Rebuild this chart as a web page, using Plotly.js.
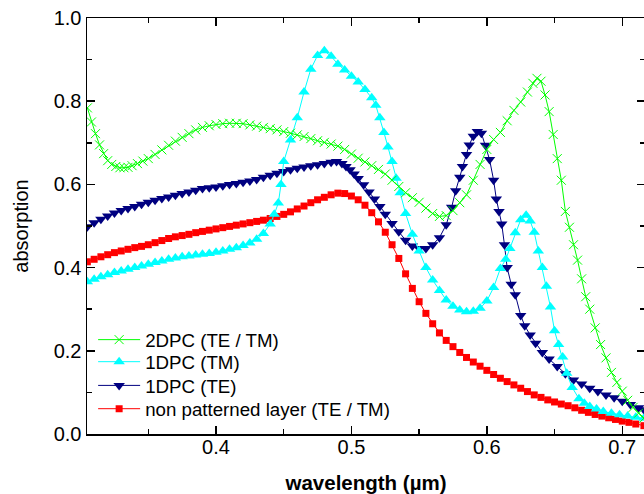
<!DOCTYPE html>
<html>
<head>
<meta charset="utf-8">
<script src="https://cdn.plot.ly/plotly-3.0.1.min.js"></script>
<style>
html,body{margin:0;padding:0;overflow:hidden;background:#fff;}
#chart{width:646px;height:494px;}
</style>
</head>
<body>
<div id="chart"></div>
<script>
// ---- Data (wavelength in µm, absorption) ----
var seriesNames = ["2DPC (TE / TM)", "1DPC (TM)", "1DPC (TE)", "non patterned layer (TE / TM)"];

var x2DPC = [0.305,0.308,0.311,0.314,0.317,0.320,0.323,0.326,0.329,0.332,0.335,0.338,0.342,0.346,0.350,0.355,0.360,0.365,0.370,0.375,0.380,0.385,0.390,0.395,0.400,0.405,0.410,0.415,0.420,0.425,0.430,0.435,0.440,0.445,0.450,0.455,0.460,0.465,0.470,0.475,0.480,0.485,0.490,0.495,0.500,0.505,0.510,0.515,0.520,0.525,0.530,0.535,0.540,0.545,0.550,0.555,0.560,0.565,0.570,0.575,0.580,0.585,0.590,0.595,0.600,0.605,0.610,0.615,0.620,0.625,0.630,0.634,0.637,0.640,0.643,0.646,0.649,0.652,0.655,0.658,0.661,0.664,0.667,0.670,0.673,0.676,0.680,0.684,0.688,0.692,0.696,0.700,0.704,0.708,0.712,0.716];
var y2DPC = [0.784,0.750,0.722,0.695,0.674,0.657,0.648,0.643,0.640,0.640,0.641,0.645,0.650,0.656,0.662,0.672,0.683,0.694,0.704,0.713,0.722,0.731,0.737,0.741,0.744,0.746,0.747,0.747,0.746,0.743,0.740,0.737,0.734,0.731,0.727,0.723,0.719,0.715,0.710,0.705,0.701,0.697,0.692,0.684,0.673,0.663,0.654,0.645,0.636,0.625,0.610,0.595,0.580,0.568,0.557,0.543,0.530,0.523,0.525,0.537,0.556,0.575,0.610,0.648,0.684,0.708,0.725,0.753,0.778,0.798,0.822,0.843,0.855,0.848,0.815,0.775,0.720,0.662,0.610,0.535,0.497,0.455,0.418,0.373,0.330,0.300,0.255,0.215,0.183,0.148,0.124,0.103,0.081,0.064,0.050,0.038];

var x1DPC_TM = [0.305,0.310,0.315,0.320,0.325,0.330,0.335,0.340,0.345,0.350,0.355,0.360,0.365,0.370,0.375,0.380,0.385,0.390,0.395,0.400,0.405,0.410,0.415,0.420,0.425,0.430,0.435,0.440,0.443,0.446,0.448,0.450,0.455,0.460,0.465,0.470,0.475,0.480,0.485,0.490,0.495,0.500,0.505,0.510,0.515,0.518,0.521,0.524,0.527,0.530,0.533,0.536,0.540,0.545,0.550,0.555,0.560,0.565,0.570,0.575,0.580,0.585,0.590,0.595,0.600,0.605,0.610,0.614,0.617,0.621,0.625,0.629,0.632,0.635,0.638,0.641,0.644,0.647,0.650,0.653,0.656,0.659,0.663,0.668,0.672,0.676,0.681,0.686,0.692,0.698,0.704,0.710,0.716];
var y1DPC_TM = [0.366,0.372,0.378,0.383,0.388,0.392,0.396,0.400,0.404,0.408,0.412,0.416,0.420,0.423,0.426,0.428,0.430,0.432,0.434,0.437,0.440,0.444,0.448,0.453,0.459,0.468,0.482,0.505,0.528,0.555,0.600,0.655,0.707,0.760,0.822,0.877,0.910,0.921,0.908,0.889,0.875,0.860,0.846,0.828,0.808,0.790,0.760,0.725,0.690,0.655,0.615,0.580,0.530,0.480,0.440,0.400,0.370,0.345,0.322,0.307,0.298,0.294,0.295,0.302,0.320,0.352,0.398,0.420,0.446,0.484,0.515,0.526,0.512,0.485,0.440,0.400,0.355,0.305,0.248,0.215,0.185,0.146,0.112,0.085,0.074,0.066,0.060,0.054,0.050,0.046,0.043,0.040,0.038];

var x1DPC_TE = [0.305,0.310,0.315,0.320,0.325,0.330,0.335,0.340,0.345,0.350,0.355,0.360,0.365,0.370,0.375,0.380,0.385,0.390,0.395,0.400,0.405,0.410,0.415,0.420,0.425,0.430,0.435,0.440,0.445,0.450,0.455,0.460,0.465,0.470,0.475,0.480,0.485,0.489,0.493,0.496,0.499,0.502,0.505,0.509,0.513,0.517,0.521,0.525,0.530,0.535,0.540,0.545,0.550,0.555,0.560,0.565,0.570,0.574,0.577,0.580,0.582,0.585,0.587,0.590,0.593,0.596,0.599,0.602,0.605,0.607,0.609,0.611,0.613,0.615,0.618,0.621,0.625,0.628,0.632,0.636,0.641,0.646,0.652,0.658,0.664,0.670,0.676,0.682,0.688,0.694,0.700,0.706,0.712,0.716];
var y1DPC_TE = [0.498,0.508,0.516,0.524,0.531,0.537,0.542,0.547,0.552,0.557,0.562,0.566,0.570,0.574,0.578,0.582,0.586,0.590,0.592,0.594,0.597,0.600,0.602,0.605,0.608,0.612,0.617,0.622,0.627,0.631,0.635,0.639,0.642,0.645,0.647,0.650,0.653,0.655,0.650,0.643,0.635,0.625,0.614,0.599,0.582,0.565,0.547,0.528,0.506,0.486,0.466,0.452,0.446,0.446,0.455,0.472,0.503,0.545,0.585,0.617,0.643,0.672,0.695,0.716,0.727,0.723,0.694,0.660,0.610,0.565,0.535,0.505,0.455,0.400,0.360,0.335,0.285,0.260,0.238,0.218,0.196,0.180,0.162,0.145,0.130,0.120,0.110,0.102,0.094,0.087,0.079,0.071,0.063,0.058];

var xNonPat = [0.305,0.310,0.315,0.320,0.325,0.330,0.335,0.340,0.345,0.350,0.355,0.360,0.365,0.370,0.375,0.380,0.385,0.390,0.395,0.400,0.405,0.410,0.415,0.420,0.425,0.430,0.435,0.440,0.445,0.450,0.455,0.460,0.465,0.470,0.475,0.480,0.485,0.490,0.495,0.500,0.505,0.510,0.515,0.520,0.525,0.530,0.535,0.540,0.545,0.550,0.555,0.560,0.565,0.570,0.575,0.580,0.585,0.590,0.595,0.600,0.605,0.610,0.615,0.620,0.625,0.630,0.635,0.640,0.645,0.650,0.655,0.660,0.665,0.670,0.675,0.680,0.685,0.690,0.695,0.700,0.705,0.710,0.716];
var yNonPat = [0.414,0.420,0.426,0.431,0.436,0.440,0.444,0.448,0.451,0.455,0.460,0.465,0.470,0.474,0.477,0.480,0.484,0.487,0.490,0.493,0.496,0.499,0.502,0.505,0.508,0.511,0.514,0.518,0.523,0.528,0.534,0.541,0.548,0.556,0.563,0.569,0.575,0.579,0.578,0.572,0.563,0.550,0.532,0.510,0.485,0.455,0.422,0.385,0.350,0.318,0.290,0.265,0.243,0.225,0.210,0.196,0.184,0.173,0.163,0.153,0.143,0.134,0.126,0.118,0.110,0.102,0.094,0.088,0.082,0.077,0.072,0.068,0.063,0.057,0.052,0.047,0.043,0.039,0.035,0.031,0.028,0.024,0.020];

var xTickVals = [0.4, 0.5, 0.6, 0.7];
var xTickText = ["0.4", "0.5", "0.6", "0.7"];
var yTickVals = [0.0, 0.2, 0.4, 0.6, 0.8, 1.0];
var yTickText = ["0.0", "0.2", "0.4", "0.6", "0.8", "1.0"];

// ---- Traces (drawn bottom to top); one legend box per series ----
var FONT = "Arial, 'Liberation Sans', sans-serif";
var traces = [
  {x: xNonPat, y: yNonPat, name: seriesNames[3], mode: "lines+markers", legend: "legend4",
   line: {color: "#ff0000", width: 1},
   marker: {symbol: "square", size: 7, color: "#ff0000", line: {width: 0}}},
  {x: x1DPC_TE, y: y1DPC_TE, name: seriesNames[2], mode: "lines+markers", legend: "legend3",
   line: {color: "#000080", width: 1},
   marker: {symbol: "triangle-down", size: 10, color: "#000080", line: {width: 0}}},
  {x: x1DPC_TM, y: y1DPC_TM, name: seriesNames[1], mode: "lines+markers", legend: "legend2",
   line: {color: "#00ffff", width: 1},
   marker: {symbol: "triangle-up", size: 10, color: "#00ffff", line: {width: 0}}},
  {x: x2DPC, y: y2DPC, name: seriesNames[0], mode: "lines+markers", legend: "legend",
   line: {color: "#00ff00", width: 1},
   marker: {symbol: "x-thin-open", size: 9, color: "#00ff00", line: {width: 1, color: "#00ff00"}}}
];

function legendBox(yc) {
  return {
    x: 0.011, y: yc, xanchor: "left", yanchor: "middle",
    bgcolor: "rgba(0,0,0,0)", borderwidth: 0,
    font: {family: FONT, size: 18.7, color: "#000"},
    itemwidth: 42
  };
}

var axisCommon = {
  showline: true, linecolor: "#000", linewidth: 1.5, mirror: "ticks",
  ticks: "inside", ticklen: 8, tickwidth: 1.5, tickcolor: "#000",
  showgrid: false, zeroline: false,
  tickfont: {family: FONT, size: 20, color: "#000"},
  minor: {ticks: "inside", ticklen: 5, tickwidth: 1.5, tickcolor: "#000", showgrid: false}
};

var layout = {
  width: 646, height: 494,
  margin: {l: 87, r: 1, t: 18, b: 60},
  paper_bgcolor: "#fff", plot_bgcolor: "#fff",
  font: {family: FONT, color: "#000"},
  showlegend: true,
  legend: legendBox(0.226),
  legend2: legendBox(0.173),
  legend3: legendBox(0.116),
  legend4: legendBox(0.060),
  xaxis: Object.assign({}, axisCommon, {
    range: [0.30473, 0.7168],
    tickvals: xTickVals, ticktext: xTickText,
    ticklabelstandoff: -6,
    minor: Object.assign({}, axisCommon.minor, {tickvals: [0.35, 0.45, 0.55, 0.65]}),
    title: {text: "<b>wavelength (µm)</b>", font: {family: FONT, size: 20.5, color: "#000"}, standoff: 19}
  }),
  yaxis: Object.assign({}, axisCommon, {
    range: [0, 1],
    tickvals: yTickVals, ticktext: yTickText,
    minor: Object.assign({}, axisCommon.minor, {tickvals: [0.1, 0.3, 0.5, 0.7, 0.9]}),
    title: {text: "absorption", font: {family: FONT, size: 20, color: "#000"}, standoff: 19}
  })
};

Plotly.newPlot("chart", traces, layout, {staticPlot: true, displayModeBar: false});
</script>
</body>
</html>
